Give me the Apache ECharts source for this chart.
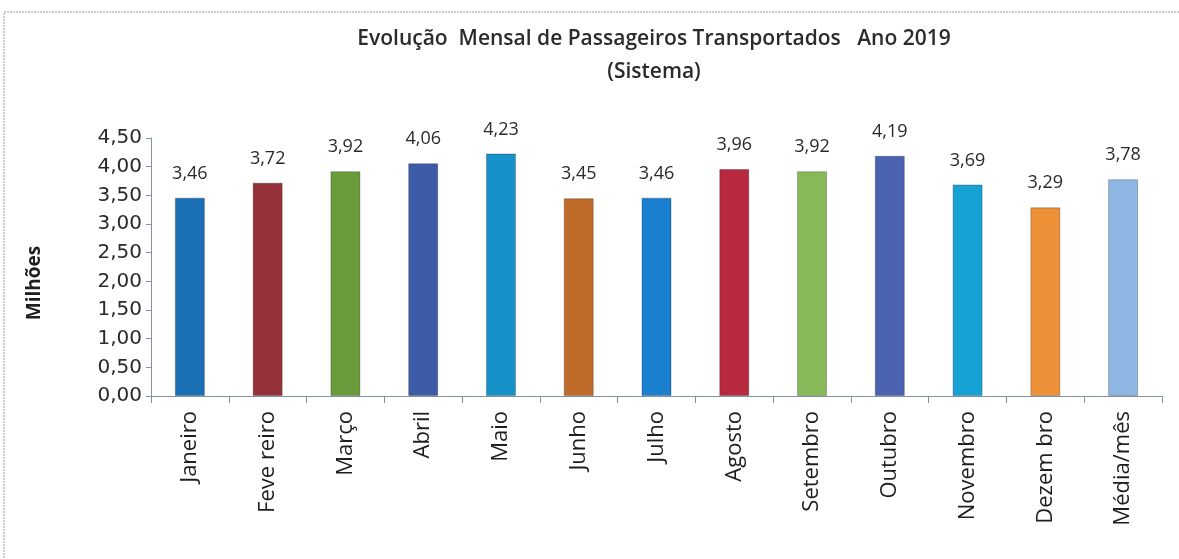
<!DOCTYPE html>
<html>
<head>
<meta charset="utf-8">
<script src="https://cdn.jsdelivr.net/npm/echarts@6/dist/echarts.min.js"></script>
<style>
  html, body { margin: 0; padding: 0; background: #fff; }
  #chart { width: 1179px; height: 559px; }
</style>
</head>
<body>
<div id="chart"></div>
<script>
const months = ['Janeiro', 'Feve reiro', 'Março', 'Abril', 'Maio', 'Junho', 'Julho',
  'Agosto', 'Setembro', 'Outubro', 'Novembro', 'Dezem bro', 'Média/mês']
const passengers = [3.46, 3.72, 3.92, 4.06, 4.23, 3.45, 3.46, 3.96, 3.92, 4.19, 3.69, 3.29, 3.78]
const barColors = ['#1a6fb5', '#96323a', '#6a9c3c', '#3d5ba6', '#1792c8', '#bf6b2a', '#1a7fcf',
  '#b8283f', '#88b958', '#4a62b0', '#16a2d4', '#ee9038', '#8db6e2']

const fmt = v => v.toFixed(2).replace('.', ',')

const myChart = echarts.init(document.getElementById('chart'))
const option = {
    animation: false,
    title: {
        text: 'Evolução  Mensal de Passageiros Transportados   Ano 2019',
        subtext: '(Sistema)',
        left: 649,
        textAlign: 'center',
        top: 24,
        itemGap: 12,
        textStyle: {
            fontFamily: 'Open Sans',
            fontWeight: 600,
            fontSize: 21,
            color: '#2b2b2b'
        },
        subtextStyle: {
            fontFamily: 'Open Sans',
            fontWeight: 600,
            fontSize: 21,
            color: '#2b2b2b'
        }
    },
    graphic: [
        {
            type: 'rect',
            shape: { x: 4, y: 12, width: 1200, height: 600 },
            style: { fill: 'none', stroke: '#8d9aa8', lineWidth: 1, lineDash: [2, 1] },
            silent: true
        },
        {
            // y axis title, placed a bit below the grid middle like the original
            type: 'text',
            x: 35,
            y: 283,
            rotation: Math.PI / 2,
            style: {
                text: 'Milhões',
                fontFamily: 'Open Sans',
                fontWeight: 'bold',
                fontSize: 19,
                fill: '#1e1e1e',
                align: 'center',
                verticalAlign: 'middle'
            },
            silent: true
        }
    ],
    grid: {
        left: 151,
        right: 17,
        top: 138,
        bottom: 163
    },
    xAxis: {
        type: 'category',
        data: months,
        axisLine: { lineStyle: { color: '#7f93a8', width: 1 } },
        axisTick: { show: true, length: 7, lineStyle: { color: '#7f93a8' } },
        axisLabel: {
            rotate: 90,
            interval: 0,
            margin: 15,
            fontFamily: 'Open Sans',
            fontSize: 22,
            color: '#1e1e1e'
        }
    },
    yAxis: {
        type: 'value',
        min: 0,
        max: 4.5,
        interval: 0.5,
        axisLine: { show: true, lineStyle: { color: '#7f93a8', width: 1 } },
        axisTick: { show: true, length: 5, lineStyle: { color: '#7f93a8' } },
        splitLine: { show: false },
        axisLabel: {
            formatter: fmt,
            margin: 9,
            fontFamily: 'DejaVu Sans',
            fontSize: 20,
            color: '#2a2a2a'
        }
    },
    series: [
        {
            type: 'bar',
            barWidth: 30,
            data: passengers.map((v, i) => ({
                value: v,
                itemStyle: { color: barColors[i], borderColor: 'rgba(0,0,0,0.25)', borderWidth: 1 }
            })),
            label: {
                show: true,
                position: 'top',
                distance: 15,
                formatter: p => fmt(p.value),
                fontFamily: 'Open Sans',
                fontSize: 18,
                color: '#2a2a2a'
            }
        }
    ]
}
myChart.setOption(option)
window.addEventListener('resize', function () {
    myChart.resize()
})
</script>
</body>
</html>
